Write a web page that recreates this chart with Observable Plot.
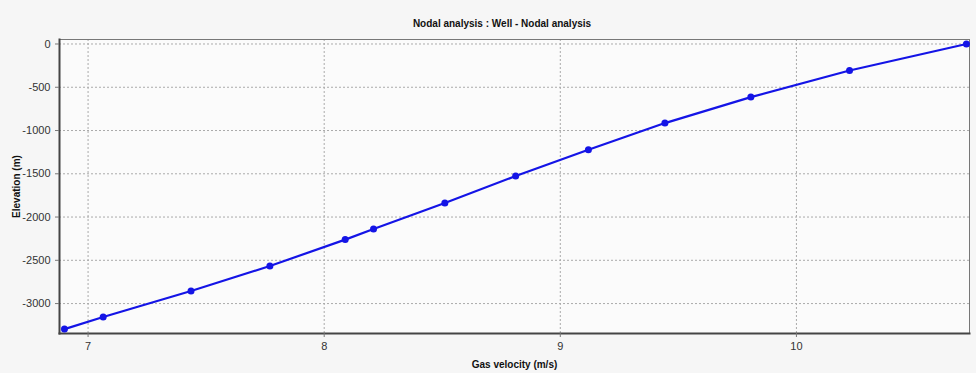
<!DOCTYPE html>
<html>
<head>
<meta charset="utf-8">
<script src="https://cdn.jsdelivr.net/npm/d3@7"></script>
<script src="https://cdn.jsdelivr.net/npm/@observablehq/plot@0.6"></script>
<style>
  html, body { margin: 0; padding: 0; background: #f6f6f6; }
  #title { height: 36px; box-sizing: border-box; padding-top: 18px; padding-left: 28px; text-align: center;
           font: bold 10px "Liberation Sans", Arial, sans-serif; line-height: 12px; color: #111; }
  g[aria-label="y-axis label"] text, g[aria-label="x-axis label"] text { font-weight: bold; font-size: 10px; fill: #111; }
</style>
</head>
<body>
<div id="title">Nodal analysis : Well - Nodal analysis</div>
<div id="chart"></div>
<script>
const velocity  = [6.90, 7.064, 7.436, 7.770, 8.089, 8.209, 8.511, 8.811, 9.119, 9.443, 9.807, 10.225, 10.720];
const elevation = [-3295, -3155, -2854, -2566, -2261, -2139, -1838, -1526, -1222, -914, -614, -306, 0];
const xTicks = [7, 8, 9, 10];
const yTicks = [0, -500, -1000, -1500, -2000, -2500, -3000];

const data = velocity.map((v, i) => ({v, e: elevation[i]}));
const blue = "#1414e6";

const chart = Plot.plot({
  width: 976,
  height: 337,
  marginLeft: 59,
  marginRight: 7,
  marginTop: 3,
  marginBottom: 40,
  style: { fontFamily: "'Liberation Sans', Arial, sans-serif", fontSize: "11px", color: "#333", background: "transparent" },
  x: { domain: [6.879, 10.733] },
  y: { domain: [-3346, 52] },
  marks: [
    Plot.frame({ fill: "#fbfbfb", stroke: null }),
    Plot.gridX(xTicks, { stroke: "#aaa", strokeOpacity: 1, strokeDasharray: "2,2" }),
    Plot.gridY(yTicks, { stroke: "#aaa", strokeOpacity: 1, strokeDasharray: "2,2" }),
    Plot.frame({ stroke: "#777", strokeWidth: 1 }),
    Plot.frame({ anchor: "left", stroke: "#444", strokeWidth: 2 }),
    Plot.frame({ anchor: "bottom", stroke: "#444", strokeWidth: 2 }),
    Plot.axisX(xTicks, { tickSize: 4, tickFormat: d => String(d), label: "Gas velocity (m/s)", labelAnchor: "center", labelArrow: "none", labelOffset: 34, stroke: "#777" }),
    Plot.axisY(yTicks, { tickSize: 4, tickFormat: d => String(d), label: "Elevation (m)", labelAnchor: "center", labelArrow: "none", labelOffset: 47, stroke: "#777" }),
    Plot.line(data, { x: "v", y: "e", stroke: blue, strokeWidth: 2.2 }),
    Plot.dot(data, { x: "v", y: "e", r: 3.5, fill: blue, stroke: null })
  ]
});
document.getElementById("chart").appendChild(chart);
</script>
</body>
</html>
